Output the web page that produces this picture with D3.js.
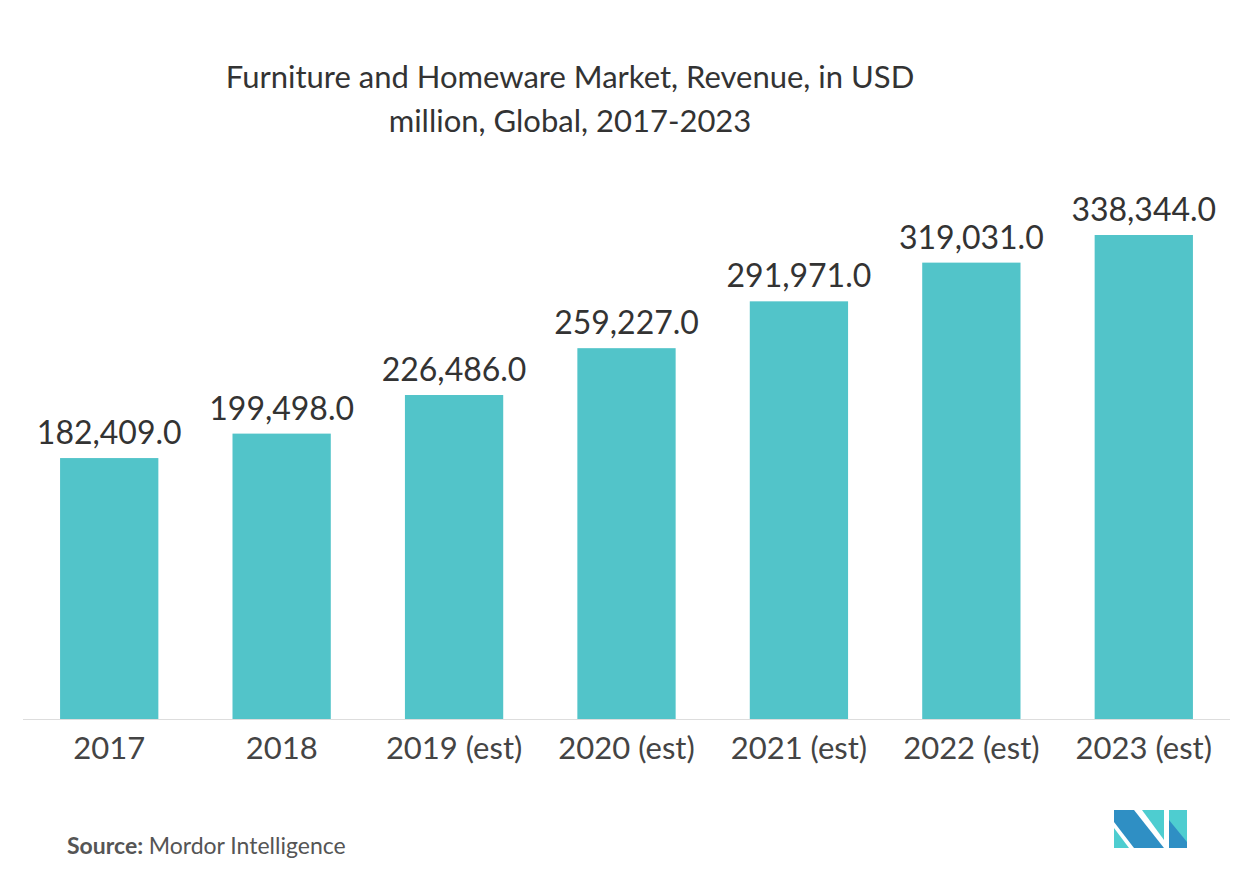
<!DOCTYPE html>
<html><head><meta charset="utf-8">
<script src="https://cdn.jsdelivr.net/npm/d3@7"></script>
<style>body{margin:0;background:#fff}</style>
</head><body><div id="chart"></div>
<script>
// chart data
const years = ['2017', '2018', '2019 (est)', '2020 (est)', '2021 (est)', '2022 (est)', '2023 (est)'];
const revenue = [182409.0, 199498.0, 226486.0, 259227.0, 291971.0, 319031.0, 338344.0];

const width = 1254, height = 881;
const font = 'Lato, "Open Sans", sans-serif';

const svg = d3.select('#chart').append('svg')
  .attr('width', width).attr('height', height);

const x = d3.scaleBand().domain(years).range([23, 1230])
  .paddingInner(0.43).paddingOuter(0.215);
const y = d3.scaleLinear().domain([0, 338344]).range([719, 235]);

// title
svg.append('text').attr('x', 570).attr('y', 88).attr('text-anchor', 'middle')
  .attr('font-family', font).attr('font-size', 31).attr('fill', '#333')
  .selectAll('tspan').data(['Furniture and Homeware Market, Revenue, in USD', 'million, Global, 2017-2023'])
  .enter().append('tspan').attr('x', 570).attr('dy', (d, i) => i ? 44 : 0).text(d => d);

// bars
svg.selectAll('.bar').data(revenue).enter().append('rect')
  .attr('x', (d, i) => x(years[i])).attr('y', d => y(d))
  .attr('width', x.bandwidth()).attr('height', d => y(0) - y(d))
  .attr('fill', '#52c4c9');

// value labels
svg.selectAll('.label').data(revenue).enter().append('text')
  .attr('x', (d, i) => x(years[i]) + x.bandwidth() / 2).attr('y', d => y(d) - 14)
  .attr('text-anchor', 'middle').attr('font-family', font).attr('font-size', 32)
  .attr('fill', '#333').text(d => d3.format(',.1f')(d));

// x axis
const ax = svg.append('g').attr('transform', 'translate(0,719)')
  .call(d3.axisBottom(x).tickSize(0).tickPadding(18));
ax.select('.domain').attr('stroke', '#ddd').attr('d', 'M23,0.5H1230');
ax.selectAll('text').attr('font-family', font).attr('font-size', 31).attr('fill', '#444');

// source
const src = svg.append('text').attr('x', 67).attr('y', 854)
  .attr('font-family', font).attr('font-size', 23).attr('fill', '#555');
src.append('tspan').attr('font-weight', 'bold').text('Source: ');
src.append('tspan').text('Mordor Intelligence');

// logo
const logo = svg.append('g').attr('transform', 'translate(1114,810)');
logo.append('polygon').attr('points', '0,0 20,0 50,38 20,38 0,12').attr('fill', '#2f8fc4');
logo.append('polygon').attr('points', '0,18 15,38 0,38').attr('fill', '#4ecdd0');
logo.append('polygon').attr('points', '28,0 50,0 50,30').attr('fill', '#4ecdd0');
logo.append('polygon').attr('points', '55,0 73,0 73,38 55,38').attr('fill', '#4ecdd0');
logo.append('polygon').attr('points', '55,10 73,32 73,38 55,38').attr('fill', '#2f8fc4');
</script></body></html>
